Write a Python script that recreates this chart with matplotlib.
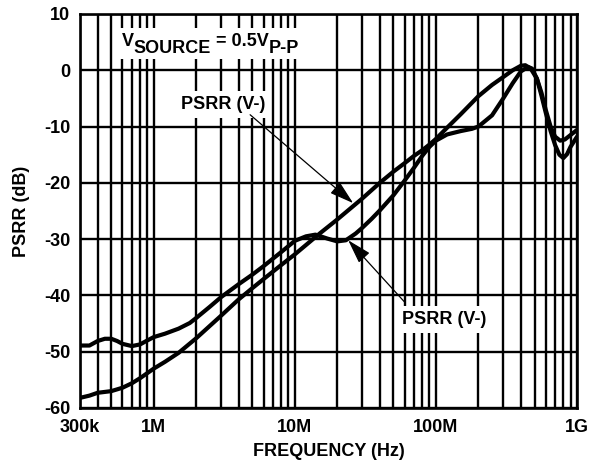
import numpy as np
import matplotlib
matplotlib.use("Agg")
import matplotlib.pyplot as plt
from matplotlib.ticker import LogLocator, NullFormatter, FixedLocator
from matplotlib.patches import Rectangle

# ---- data (frequency in MHz, PSRR in dB) ----
freq_a_mhz = [0.3, 0.35, 0.4, 0.45, 0.5, 0.55, 0.6, 0.7, 0.8, 0.9, 1.0, 1.2, 1.5, 1.8, 2.0,
              2.5, 3.0, 4.0, 5.0, 6.0, 8.0, 10, 12, 14, 17, 20, 23, 27, 30, 35, 40, 50,
              60, 70, 80, 90, 100, 120, 150, 180, 200, 250, 300, 350, 400, 450, 480,
              520, 560, 600, 650, 700, 750, 800, 850, 900, 1000]
psrr_a_db = [-48.9, -48.9, -48.1, -47.7, -47.7, -48.1, -48.6, -49.0, -48.7, -48.0, -47.4,
             -46.8, -45.9, -44.9, -44.0, -42.0, -40.3, -38.0, -36.3, -34.8, -32.3, -30.3,
             -29.5, -29.2, -29.9, -30.4, -30.2, -29.0, -28.0, -26.4, -24.9, -22.2, -19.6,
             -17.3, -15.2, -13.6, -12.5, -11.4, -10.8, -10.4, -10.0, -8.0, -5.0, -2.3,
             -0.2, 0.6, 0.3, -1.5, -4.5, -7.5, -10.8, -13.3, -15.0, -15.6, -14.9, -13.6,
             -11.8]

freq_b_mhz = [0.3, 0.35, 0.4, 0.5, 0.6, 0.7, 0.8, 1.0, 1.2, 1.5, 2.0, 3.0, 4.0, 5.0, 6.0,
              8.0, 10, 15, 20, 30, 40, 50, 60, 70, 80, 90, 100, 120, 150, 200, 250, 300,
              350, 400, 430, 470, 520, 560, 600, 650, 700, 760, 820, 900, 1000]
psrr_b_db = [-58.2, -57.8, -57.3, -57.0, -56.4, -55.6, -54.7, -53.0, -51.8, -50.2, -47.6,
             -43.6, -40.7, -38.7, -37.1, -34.6, -32.7, -29.0, -26.5, -22.8, -20.0, -18.0,
             -16.5, -15.2, -14.2, -13.2, -12.2, -10.2, -7.8, -4.6, -2.6, -1.2, 0.0, 0.8,
             0.9, 0.3, -1.5, -4.0, -7.0, -10.0, -11.8, -12.5, -12.3, -11.5, -10.6]

x_tick_values = [3e5, 1e6, 1e7, 1e8, 1e9]
x_tick_labels = ["300k", "1M", "10M", "100M", "1G"]
y_tick_values = [-60, -50, -40, -30, -20, -10, 0, 10]
y_tick_labels = ["-60", "-50", "-40", "-30", "-20", "-10", "0", "10"]

label_text = "PSRR (V-)"
xlabel_text = "FREQUENCY (Hz)"
ylabel_text = "PSRR (dB)"

# ---- figure ----
W, H = 598, 462
fig = plt.figure(figsize=(W / 100, H / 100), dpi=100)
ax = fig.add_axes([80 / W, 1 - 408 / H, (577 - 80) / W, (408 - 14) / H])

FONT = "Liberation Sans"
FS = 13

fa = np.array(freq_a_mhz) * 1e6
fb = np.array(freq_b_mhz) * 1e6
ax.plot(fa, psrr_a_db, color="black", lw=3.0, zorder=4, solid_capstyle="round")
ax.plot(fb, psrr_b_db, color="black", lw=3.0, zorder=4, solid_capstyle="round")

ax.set_xscale("log")
ax.set_xlim(3e5, 1e9)
ax.set_ylim(-60, 10)
ax.xaxis.set_major_locator(FixedLocator(x_tick_values))
ax.set_xticklabels(x_tick_labels)
ax.xaxis.set_minor_locator(LogLocator(base=10, subs=np.arange(2, 10), numticks=30))
ax.xaxis.set_minor_formatter(NullFormatter())
ax.set_yticks(y_tick_values)
ax.set_yticklabels(y_tick_labels)

ax.grid(True, which="both", axis="x", color="black", lw=1.7, zorder=1)
ax.grid(True, which="major", axis="y", color="black", lw=1.7, zorder=1)
ax.set_axisbelow(True)
for s in ax.spines.values():
    s.set_linewidth(1.9)
    s.set_color("black")
    s.set_zorder(6)

ax.tick_params(which="both", length=0)
ax.tick_params(axis="y", pad=7)
ax.tick_params(axis="x", pad=8)
for lab in ax.get_xticklabels() + ax.get_yticklabels():
    lab.set_fontfamily(FONT)
    lab.set_fontweight("bold")
    lab.set_fontsize(FS)

ax.set_xlabel(xlabel_text, fontfamily=FONT, fontweight="bold", fontsize=FS, labelpad=5)
ax.set_ylabel(ylabel_text, fontfamily=FONT, fontweight="bold", fontsize=FS, labelpad=10)

# ---- V_SOURCE annotation (white box + text pieces with lowered subscripts) ----
def px(x, y):
    return x / W, 1 - y / H

ax.add_patch(Rectangle(px(115, 59), (299 - 115) / W, (59 - 28) / H,
                       transform=fig.transFigure, facecolor="white",
                       edgecolor="none", zorder=3))

renderer = fig.canvas.get_renderer()
pieces = [("V", 45.5), ("SOURCE", 53), (" = 0.5V", 45.5), ("P-P", 53)]
xcur = 121.5
for txt, base in pieces:
    t = fig.text(*px(xcur, base), txt, fontfamily=FONT, fontweight="bold",
                 fontsize=FS, ha="left", va="baseline", zorder=7)
    bb = t.get_window_extent(renderer=renderer)
    xcur += bb.width

# ---- PSRR (V-) labels with arrows ----
box = dict(facecolor="white", edgecolor="none", pad=3.5)
ax.text(3.08e6, -6.1, label_text, fontfamily=FONT, fontweight="bold", fontsize=FS,
        ha="center", va="center", bbox=box, zorder=5)
ax.text(1.14e8, -44.3, label_text, fontfamily=FONT, fontweight="bold", fontsize=FS,
        ha="center", va="center", bbox=box, zorder=5)

arrow = dict(arrowstyle="-|>,head_length=1.5,head_width=0.45", color="black",
             lw=0.9, shrinkA=0, shrinkB=0)
ax.annotate("", xy=(2.59e7, -23.6), xytext=(4.82e6, -7.9), arrowprops=arrow, zorder=5)
ax.annotate("", xy=(2.39e7, -30.2), xytext=(6.06e7, -41.3), arrowprops=arrow, zorder=5)

fig.savefig("out.png", dpi=100)
